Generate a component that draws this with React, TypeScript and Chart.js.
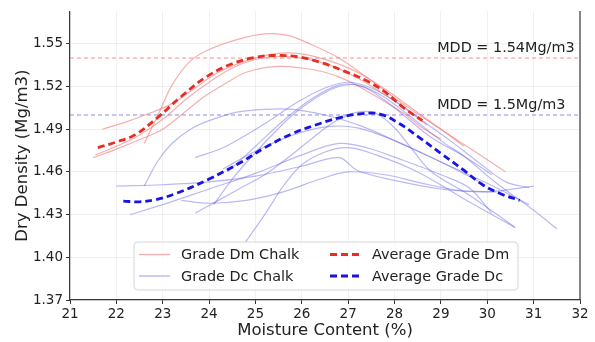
import React, { useEffect, useRef } from "react";
import { Chart, registerables } from "chart.js";

Chart.register(...registerables);

type P = [number, number];

// Axis ticks
const xTicks = [21, 22, 23, 24, 25, 26, 27, 28, 29, 30, 31, 32];
const yTicks = [1.37, 1.4, 1.43, 1.46, 1.49, 1.52, 1.55];

// Grade Dm chalk curves (moisture %, dry density)
const dm1: P[] = [[22.6,1.480],[22.9,1.500],[23.2,1.521],[23.6,1.538],[24.0,1.546],[24.6,1.553],[25.2,1.557],[25.7,1.556],[26.1,1.551],[26.8,1.540],[27.5,1.524],[28.3,1.505],[29.0,1.490],[29.7,1.475],[30.4,1.460]];
const dm2: P[] = [[21.5,1.470],[22.0,1.476],[22.6,1.484],[23.0,1.490],[23.4,1.500],[23.9,1.513],[24.4,1.523],[24.8,1.530],[25.4,1.534],[26.0,1.533],[26.5,1.530],[27.0,1.524],[27.5,1.515],[28.2,1.501],[28.6,1.491],[29.0,1.483]];
const dm3: P[] = [[21.7,1.490],[22.2,1.495],[22.7,1.501],[23.2,1.508],[23.7,1.519],[24.2,1.530],[24.8,1.538],[25.4,1.543],[26.0,1.543],[26.6,1.538],[27.2,1.530],[27.8,1.518],[28.4,1.504],[29.0,1.490],[29.5,1.478]];
const dm4: P[] = [[21.55,1.472],[22.0,1.478],[22.5,1.486],[23.0,1.497],[23.5,1.511],[24.0,1.523],[24.5,1.533],[25.0,1.539],[25.5,1.541],[26.0,1.540],[26.6,1.535],[27.2,1.526],[27.8,1.514],[28.3,1.503],[28.7,1.493]];

// Grade Dc chalk curves
const dc1: P[] = [[22.6,1.450],[22.9,1.468],[23.2,1.480],[23.6,1.490],[24.0,1.496],[24.6,1.502],[25.2,1.504],[25.8,1.504],[26.5,1.500],[27.3,1.492],[28.2,1.479],[29.0,1.467],[29.9,1.452]];
const dc2: P[] = [[22.0,1.450],[23.0,1.451],[24.0,1.453],[25.0,1.457],[26.0,1.464],[26.8,1.470],[27.2,1.461],[28.0,1.454],[29.0,1.448],[30.0,1.446],[31.0,1.450]];
const dc3: P[] = [[22.3,1.430],[23.0,1.437],[24.0,1.448],[25.0,1.459],[26.0,1.472],[26.8,1.480],[27.4,1.477],[28.2,1.468],[29.0,1.458],[29.6,1.449],[30.1,1.431]];
const dc4: P[] = [[24.77,1.410],[25.2,1.430],[25.6,1.450],[26.0,1.465],[26.5,1.474],[27.0,1.477],[27.6,1.472],[28.5,1.460],[29.5,1.441],[30.6,1.421]];
const dc5: P[] = [[23.4,1.440],[24.0,1.438],[24.8,1.440],[25.6,1.446],[26.4,1.455],[27.0,1.460],[27.8,1.458],[28.6,1.452],[29.4,1.447],[30.2,1.446]];
const dc6: P[] = [[23.7,1.470],[24.3,1.477],[24.8,1.486],[25.3,1.496],[25.9,1.509],[26.5,1.519],[27.0,1.523],[27.5,1.519],[28.0,1.510],[28.6,1.496],[29.2,1.482],[29.8,1.467],[30.4,1.453],[30.9,1.449]];
const dc7: P[] = [[24.1,1.437],[24.5,1.455],[24.9,1.470],[25.3,1.484],[25.8,1.500],[26.3,1.512],[26.8,1.520],[27.2,1.521],[27.7,1.514],[28.3,1.500],[29.0,1.482],[29.5,1.471],[30.2,1.452],[31.0,1.433],[31.5,1.420]];
const dc8: P[] = [[24.4,1.460],[25.0,1.478],[25.6,1.496],[26.2,1.511],[26.8,1.521],[27.3,1.520],[27.8,1.510],[28.3,1.497],[28.8,1.484],[29.5,1.471],[30.1,1.458]];
const dc9: P[] = [[23.7,1.431],[24.2,1.440],[24.7,1.449],[25.2,1.458],[25.7,1.470],[26.2,1.483],[26.7,1.495],[27.2,1.502],[27.6,1.501],[28.0,1.491],[28.4,1.475],[28.8,1.460],[29.6,1.444],[30.6,1.421]];
const dc10: P[] = [[24.3,1.462],[24.9,1.473],[25.5,1.482],[26.0,1.488],[26.6,1.492],[27.2,1.491],[28.0,1.482],[29.0,1.467],[30.0,1.452],[30.9,1.437]];

// Averages
const avgDm: P[] = [[21.6,1.477],[22.0,1.481],[22.4,1.486],[22.9,1.4985],[23.4,1.513],[23.95,1.527],[24.5,1.536],[25.0,1.5405],[25.4,1.5418],[25.9,1.541],[26.4,1.537],[26.9,1.531],[27.4,1.524],[27.8,1.516],[28.2,1.505],[28.6,1.496]];
const avgDc: P[] = [[22.15,1.4395],[22.5,1.439],[22.85,1.4405],[23.3,1.445],[24.0,1.455],[24.7,1.467],[25.2,1.477],[25.8,1.487],[26.3,1.493],[26.8,1.498],[27.3,1.501],[27.7,1.5005],[28.1,1.494],[28.5,1.485],[29.0,1.473],[29.5,1.461],[29.9,1.451],[30.3,1.4445],[30.7,1.440]];

// MDD reference lines
const mddDm = 1.54;
const mddDc = 1.5;
const mddLabels = ["MDD = 1.54Mg/m3", "MDD = 1.5Mg/m3"];
const mddLabelX = 28.92;

const dmThin = [dm1, dm2, dm3, dm4];
const dcThin = [dc1, dc2, dc3, dc4, dc5, dc6, dc7, dc8, dc9, dc10];

const legendItems = [
  { label: "Grade Dm Chalk", color: "rgba(240,120,120,0.6)", width: 1.3, dash: [] as number[] },
  { label: "Grade Dc Chalk", color: "rgba(100,100,230,0.5)", width: 1.3, dash: [] as number[] },
  { label: "Average Grade Dm", color: "rgb(232,45,35)", width: 2.8, dash: [7, 4] },
  { label: "Average Grade Dc", color: "rgb(25,20,225)", width: 2.8, dash: [7, 4] },
];

const FONT = "'DejaVu Sans', 'Liberation Sans', sans-serif";

const toXY = (arr: P[]) => arr.map(([x, y]) => ({ x, y }));

export default function App() {
  const ref = useRef<HTMLCanvasElement | null>(null);

  useEffect(() => {
    document.body.style.margin = "0";
    const canvas = ref.current;
    if (!canvas) return;

    const thin = (arr: P[], color: string) => ({
      data: toXY(arr),
      borderColor: color,
      borderWidth: 1.2,
      pointRadius: 0,
      tension: 0.35,
      fill: false,
      order: 2,
    });

    const datasets: any[] = [
      {
        data: [{ x: 21, y: mddDm }, { x: 32, y: mddDm }],
        borderColor: "rgba(240,110,110,0.75)",
        borderWidth: 1,
        borderDash: [4, 3],
        pointRadius: 0,
        order: 3,
      },
      {
        data: [{ x: 21, y: mddDc }, { x: 32, y: mddDc }],
        borderColor: "rgba(110,110,235,0.8)",
        borderWidth: 1,
        borderDash: [4, 3],
        pointRadius: 0,
        order: 3,
      },
      ...dcThin.map((a) => thin(a, "rgba(100,100,230,0.45)")),
      ...dmThin.map((a) => thin(a, "rgba(240,120,120,0.6)")),
      {
        data: toXY(avgDc),
        borderColor: "rgb(25,20,225)",
        borderWidth: 2.8,
        borderDash: [7, 4],
        pointRadius: 0,
        tension: 0.4,
        order: 0,
      },
      {
        data: toXY(avgDm),
        borderColor: "rgb(232,45,35)",
        borderWidth: 2.8,
        borderDash: [7, 4],
        pointRadius: 0,
        tension: 0.4,
        order: 0,
      },
    ];

    const overlay = {
      id: "overlay",
      afterDraw(chart: any) {
        const { ctx, chartArea, scales } = chart;
        ctx.save();
        // right spine
        ctx.strokeStyle = "#3a3a3a";
        ctx.lineWidth = 1.2;
        ctx.beginPath();
        ctx.moveTo(chartArea.right, chartArea.top);
        ctx.lineTo(chartArea.right, chartArea.bottom);
        ctx.stroke();

        // MDD labels
        ctx.fillStyle = "#222";
        ctx.font = `14.4px ${FONT}`;
        ctx.textAlign = "left";
        ctx.textBaseline = "alphabetic";
        const lx = scales.x.getPixelForValue(mddLabelX);
        ctx.fillText(mddLabels[0], lx, scales.y.getPixelForValue(mddDm) - 6);
        ctx.fillText(mddLabels[1], lx, scales.y.getPixelForValue(mddDc) - 6);

        // legend
        const bx = 134, by = 242, bw = 384, bh = 48, r = 4;
        ctx.fillStyle = "rgba(255,255,255,0.8)";
        ctx.strokeStyle = "#d6d6d6";
        ctx.lineWidth = 1;
        ctx.beginPath();
        ctx.moveTo(bx + r, by);
        ctx.lineTo(bx + bw - r, by);
        ctx.quadraticCurveTo(bx + bw, by, bx + bw, by + r);
        ctx.lineTo(bx + bw, by + bh - r);
        ctx.quadraticCurveTo(bx + bw, by + bh, bx + bw - r, by + bh);
        ctx.lineTo(bx + r, by + bh);
        ctx.quadraticCurveTo(bx, by + bh, bx, by + bh - r);
        ctx.lineTo(bx, by + r);
        ctx.quadraticCurveTo(bx, by, bx + r, by);
        ctx.closePath();
        ctx.fill();
        ctx.stroke();

        const cols = [139, 330];
        const rows = [254.5, 276];
        legendItems.forEach((it, i) => {
          const cx = cols[Math.floor(i / 2)];
          const cy = rows[i % 2];
          ctx.strokeStyle = it.color;
          ctx.lineWidth = it.width;
          ctx.setLineDash(it.dash);
          ctx.beginPath();
          ctx.moveTo(cx, cy);
          ctx.lineTo(cx + 31, cy);
          ctx.stroke();
          ctx.setLineDash([]);
          ctx.fillStyle = "#222";
          ctx.font = `14.4px ${FONT}`;
          ctx.textBaseline = "middle";
          ctx.fillText(it.label, cx + 42, cy + 1);
        });
        ctx.restore();
      },
    };

    const chart = new Chart(canvas, {
      type: "line",
      data: { datasets },
      options: {
        animation: false,
        responsive: false,
        maintainAspectRatio: false,
        layout: { padding: { left: 0, right: 15, top: 5, bottom: 0 } },
        plugins: { legend: { display: false }, tooltip: { enabled: false } },
        scales: {
          x: {
            type: "linear",
            min: 21,
            max: 32,
            afterBuildTicks: (s: any) => {
              s.ticks = xTicks.map((v) => ({ value: v }));
            },
            afterFit: (s: any) => {
              s.height = 42;
            },
            ticks: {
              color: "#222",
              font: { family: FONT, size: 13.5 },
              padding: 2,
              maxRotation: 0,
              callback: (v: any) => String(v),
            },
            grid: {
              color: "rgba(0,0,0,0.06)",
              tickColor: "#333",
              tickLength: 4,
              drawTicks: true,
            },
            border: { color: "#3a3a3a", width: 1.2 },
            title: {
              display: true,
              text: "Moisture Content (%)",
              color: "#222",
              font: { family: FONT, size: 16.5 },
              padding: { top: 0, bottom: 1 },
            },
          },
          y: {
            type: "linear",
            min: 1.37,
            max: 1.573,
            afterBuildTicks: (s: any) => {
              s.ticks = yTicks.map((v) => ({ value: v }));
            },
            afterFit: (s: any) => {
              s.width = 70;
            },
            ticks: {
              color: "#222",
              font: { family: FONT, size: 13.5 },
              padding: 3,
              callback: (v: any) => Number(v).toFixed(2),
            },
            grid: {
              color: "rgba(0,0,0,0.06)",
              tickColor: "#333",
              tickLength: 4,
              drawTicks: true,
            },
            border: { color: "#3a3a3a", width: 1.2 },
            title: {
              display: true,
              text: "Dry Density (Mg/m3)",
              color: "#222",
              font: { family: FONT, size: 16.5 },
              padding: { top: 13, bottom: 0 },
            },
          },
        },
      },
      plugins: [overlay],
    });

    return () => chart.destroy();
  }, []);

  return (
    <div style={{ position: "absolute", left: 0, top: 0, width: 595, height: 342, background: "#fff" }}>
      <canvas ref={ref} width={595} height={342} style={{ width: 595, height: 342, display: "block" }} />
    </div>
  );
}
